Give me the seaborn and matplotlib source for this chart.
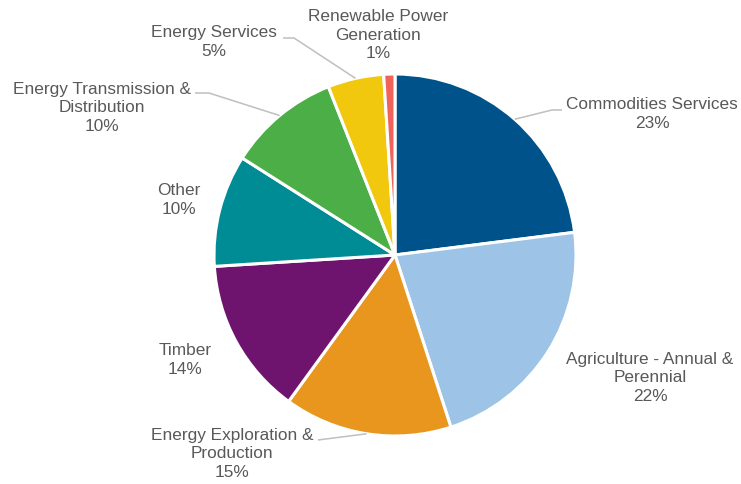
import numpy as np
import matplotlib
matplotlib.use("Agg")
import matplotlib.pyplot as plt
import seaborn as sns

# Portfolio mix by sector (percent)
categories = [
    "Commodities Services",
    "Agriculture - Annual &\nPerennial",
    "Energy Exploration &\nProduction",
    "Timber",
    "Other",
    "Energy Transmission &\nDistribution",
    "Energy Services",
    "Renewable Power\nGeneration",
]
shares = [23, 22, 15, 14, 10, 10, 5, 1]
colors = ["#00538A", "#9DC3E6", "#E8961E", "#6E146E",
          "#008C95", "#4BAE47", "#F2C80F", "#F0635A"]

# Label block centres (figure pixels, origin top-left) and optional leader elbows
label_pos = [(652, 114), (650, 378), (232, 454), (185, 360),
             (179, 200), (102, 108), (214, 42), (378, 35)]
leaders = [[(552, 110), (562, 110)], None, [(318, 440)], None,
           None, [(209, 93), (195, 93)], [(294, 38), (283, 38)], None]

W, H = 741, 484
CX, CY, R = 395, 255, 181

sns.set_theme(style="white")
plt.rcParams["font.family"] = ["Liberation Sans", "DejaVu Sans"]

fig = plt.figure(figsize=(W / 100, H / 100), dpi=100)
ax = fig.add_axes([0, 0, 1, 1])

wedges, _ = ax.pie(
    shares, colors=colors, startangle=90, counterclock=False,
    center=(CX, H - CY), radius=R,
    wedgeprops=dict(edgecolor="white", linewidth=2.2),
)
ax.set_xlim(0, W)
ax.set_ylim(0, H)
ax.set_aspect("equal")
ax.axis("off")

total = sum(shares)
start = 90.0
for name, val, pos, elbow in zip(categories, shares, label_pos, leaders):
    sweep = 360.0 * val / total
    mid = np.deg2rad(start - sweep / 2)
    start -= sweep
    ax.text(pos[0], H - pos[1], f"{name}\n{val}%", ha="center", va="center",
            fontsize=12.4, color="#595959", linespacing=1.28)
    if elbow:
        ex = CX + R * np.cos(mid)
        ey = (H - CY) + R * np.sin(mid)
        xs = [ex] + [p[0] for p in elbow]
        ys = [ey] + [H - p[1] for p in elbow]
        ax.plot(xs, ys, color="#BFBFBF", linewidth=1.1, solid_capstyle="butt")

fig.savefig("out.png", dpi=100)
